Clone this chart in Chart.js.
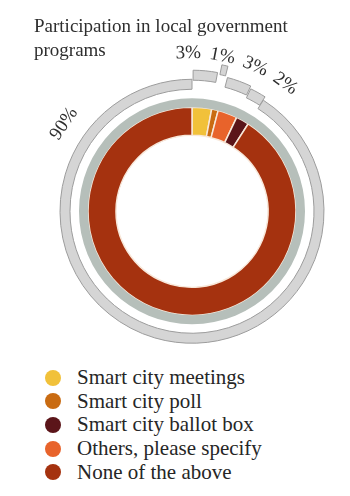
<!DOCTYPE html>
<html>
<head>
<meta charset="utf-8">
<script src="https://cdn.jsdelivr.net/npm/chart.js@4.4.1/dist/chart.umd.min.js"></script>
<style>
  body { margin: 0; background: #fff; width: 350px; height: 496px; overflow: hidden; }
  #wrap { position: relative; width: 350px; height: 360px; }
  #legend { list-style: none; margin: 6px 0 0 0; padding: 0 0 0 45px; font-family: 'Liberation Serif', serif; font-size: 21px; color: #262626; }
  #legend li { height: 23.6px; display: flex; align-items: center; }
  #legend .dot { width: 16px; height: 16px; border-radius: 50%; margin-right: 16px; flex: none; }
</style>
</head>
<body>
<div id="wrap"><canvas id="partChart"></canvas></div>
<ul id="legend"></ul>
<script>
const categories = ['Smart city meetings', 'Smart city poll', 'Smart city ballot box', 'Others, please specify', 'None of the above'];
const shares = [3, 1, 2, 3, 90];
const colors = ['#f1c13a', '#c96b12', '#5b1519', '#e8632b', '#a5320f'];
// slices run clockwise from the top in this order
const sliceOrder = [0, 1, 3, 2, 4];

const sliceLabels = sliceOrder.map(i => categories[i]);
const sliceValues = sliceOrder.map(i => shares[i]);
const sliceColors = sliceOrder.map(i => colors[i]);

// percent labels around the rings
const pctLabels = {
  id: 'pctLabels',
  afterDatasetsDraw(chart) {
    const arc = chart.getDatasetMeta(3).data[0];
    const cx = arc.x, cy = arc.y;
    const total = sliceValues.reduce((a, b) => a + b, 0);
    const ctx = chart.ctx;
    const put = (text, deg, r) => {
      const a = deg * Math.PI / 180;
      ctx.save();
      ctx.translate(cx + r * Math.sin(a), cy - r * Math.cos(a));
      ctx.rotate(a);
      ctx.fillText(text, 0, 0);
      ctx.restore();
    };
    ctx.save();
    ctx.font = '19px "Liberation Serif", serif';
    ctx.fillStyle = '#2e2e2e';
    ctx.textAlign = 'center';
    ctx.textBaseline = 'middle';
    // the small slices share one fan of labels around their common middle
    const small = sliceValues.slice(0, 4);
    const smallSum = small.reduce((a, b) => a + b, 0);
    const mid = smallSum / total * 180 + 1;
    const step = 12.5;
    small.forEach((v, i) => put(v + '%', mid + (i - (small.length - 1) / 2) * step, 158));
    // big slice: label near its far end
    const start = smallSum / total * 360;
    const end = start + sliceValues[4] / total * 360;
    put(sliceValues[4] + '%', start + (end - start) * 0.83, 155);
    ctx.restore();
  }
};

new Chart(document.getElementById('partChart'), {
  type: 'doughnut',
  data: {
    labels: sliceLabels,
    datasets: [
      // stepped outer ring
      { data: sliceValues, backgroundColor: '#d5d5d5', borderColor: '#9c9c9c', borderWidth: 1, offset: [20, 36, 14, 8, 0], weight: 10 },
      { data: [1], backgroundColor: 'rgba(0,0,0,0)', borderWidth: 0, weight: 9 },
      { data: [1], backgroundColor: '#b6bfba', borderWidth: 0, weight: 9 },
      { data: sliceValues, backgroundColor: sliceColors, borderColor: '#f8e8da', borderWidth: 1.5, weight: 28 },
    ],
  },
  options: {
    responsive: true,
    maintainAspectRatio: false,
    animation: false,
    events: [],
    radius: 132,
    cutout: '57.6%',
    layout: { padding: { left: 34, right: 0, top: 0, bottom: 0 } },
    plugins: {
      legend: { display: false },
      tooltip: { enabled: false },
      title: {
        display: true,
        text: ['Participation in local government', 'programs'],
        align: 'start',
        color: '#2e2e2e',
        font: { family: "'Liberation Serif', serif", size: 19, weight: 'normal', lineHeight: 1.25 },
        padding: { top: 15, bottom: 0 },
      },
    },
  },
  plugins: [pctLabels],
});

// legend list
const legend = document.getElementById('legend');
categories.forEach((name, i) => {
  const li = document.createElement('li');
  const dot = document.createElement('span');
  dot.className = 'dot';
  dot.style.background = colors[i];
  li.appendChild(dot);
  li.appendChild(document.createTextNode(name));
  legend.appendChild(li);
});
</script>
</body>
</html>
